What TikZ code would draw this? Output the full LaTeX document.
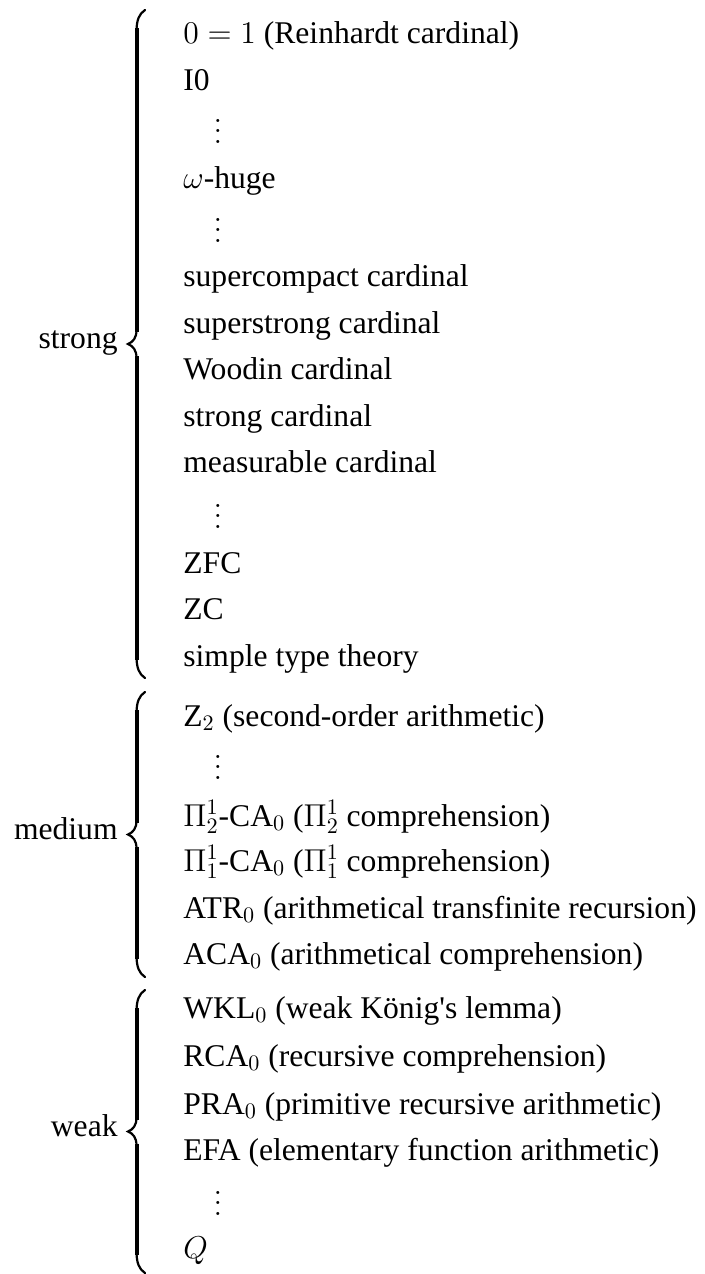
\documentclass[tikz,border=0pt]{standalone}
\usepackage{fix-cm}
\usepackage[no-math]{fontspec}
\setmainfont{Liberation Serif}
\usetikzlibrary{positioning}

\newcommand{\rowdots}{\vbox{\baselineskip=0.33em\lineskiplimit=0pt\hbox{$.$}\hbox{$.$}\hbox{$.$}}}

\begin{document}
\begin{tikzpicture}[x=0.5pt, y=-0.5pt,
  entry/.style={anchor=base west, inner sep=0pt, font=\fontsize{15.8}{19}\selectfont},
  dotrow/.style={anchor=base, inner sep=0pt, font=\fontsize{15.8}{19}\selectfont},
  grouplabel/.style={anchor=mid east, inner sep=0pt, font=\fontsize{15.8}{19}\selectfont},
  bracestroke/.style={line width=1.1pt, line cap=round},
  stemstroke/.style={line width=2pt},
]
  \useasboundingbox (0,0) rectangle (705,1274);

  % strong
  \node[entry] (s1) at (183,43) {$0=1$ (Reinhardt cardinal)};
  \node[below=23.5pt of s1.base west, entry] (s2) {I0};
  \node[below=26.5pt of s2.base west, xshift=17.5pt, dotrow] (s3) {\rowdots};
  \node[below=49pt of s2.base west, entry] (s4) {$\omega$-huge};
  \node[below=27pt of s4.base west, xshift=17.5pt, dotrow] (s5) {\rowdots};
  \node[below=49pt of s4.base west, entry] (s6) {supercompact cardinal};
  \node[below=23.5pt of s6.base west, entry] (s7) {superstrong cardinal};
  \node[below=23pt of s7.base west, entry] (s8) {Woodin cardinal};
  \node[below=23.5pt of s8.base west, entry] (s9) {strong cardinal};
  \node[below=23pt of s9.base west, entry] (s10) {measurable cardinal};
  \node[below=28pt of s10.base west, xshift=17.5pt, dotrow] (s11) {\rowdots};
  \node[below=50.5pt of s10.base west, entry] (s12) {ZFC};
  \node[below=23pt of s12.base west, entry] (s13) {ZC};
  \node[below=23.5pt of s13.base west, entry] (s14) {simple type theory};

  % medium
  \node[below=30pt of s14.base west, entry] (m1) {Z$_2$ (second-order arithmetic)};
  \node[below=26.5pt of m1.base west, xshift=17.5pt, dotrow] (m2) {\rowdots};
  \node[below=50pt of m1.base west, entry] (m3) {$\Pi^1_2$-CA$_0$ ($\Pi^1_2$ comprehension)};
  \node[below=22.5pt of m3.base west, entry] (m4) {$\Pi^1_1$-CA$_0$ ($\Pi^1_1$ comprehension)};
  \node[below=23.5pt of m4.base west, entry] (m5) {ATR$_0$ (arithmetical transfinite recursion)};
  \node[below=23pt of m5.base west, entry] (m6) {ACA$_0$ (arithmetical comprehension)};

  % weak
  \node[below=27pt of m6.base west, entry] (w1) {WKL$_0$ (weak König\textquotesingle s lemma)};
  \node[below=24pt of w1.base west, entry] (w2) {RCA$_0$ (recursive comprehension)};
  \node[below=24pt of w2.base west, entry] (w3) {PRA$_0$ (primitive recursive arithmetic)};
  \node[below=23pt of w3.base west, entry] (w4) {EFA (elementary function arithmetic)};
  \node[below=27.5pt of w4.base west, xshift=17.5pt, dotrow] (w5) {\rowdots};
  \node[below=49pt of w4.base west, entry] (w6) {$Q$};

  % braces
  \foreach \yt/\yb/\tip in {10/678/bS, 692/977/bM, 990/1273/bW} {
    \pgfmathsetmacro{\yc}{(\yt+\yb)/2}
    \coordinate (\tip) at (128,\yc);
    \draw[bracestroke] (145,\yt) .. controls (139,\yt+4) and (136.5,\yt+10) .. (136.5,\yt+22)
      -- (136.5,\yc-14) .. controls (136.5,\yc-6) and (133,\yc-2) .. (\tip)
      .. controls (133,\yc+2) and (136.5,\yc+6) .. (136.5,\yc+14)
      -- (136.5,\yb-22) .. controls (136.5,\yb-10) and (139,\yb-4) .. (145,\yb);
    \draw[stemstroke] (136.5,\yt+18) -- (136.5,\yc-12) (136.5,\yc+12) -- (136.5,\yb-18);
  }
  \node[left=5pt of bS, grouplabel] (lS) {strong};
  \node[left=5pt of bM, grouplabel] (lM) {medium};
  \node[left=5pt of bW, grouplabel] (lW) {weak};
\end{tikzpicture}
\end{document}
